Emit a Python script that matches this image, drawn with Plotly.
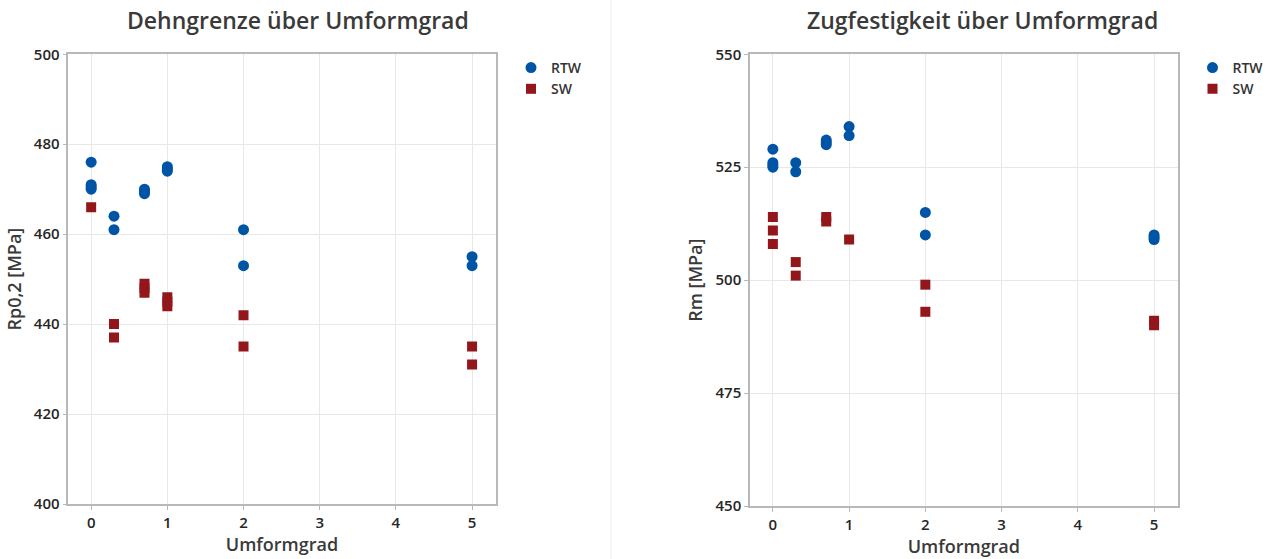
import plotly.graph_objects as go

# ---------------- data ----------------
# Dehngrenze (Rp0,2)
rp_rtw_x = [0, 0, 0, 0, 0.3, 0.3, 0.7, 0.7, 0.7, 1, 1, 1, 2, 2, 5, 5]
rp_rtw_y = [476, 471, 470.5, 470, 464, 461, 470, 469.5, 469, 475, 474.5, 474, 461, 453, 455, 453]
rp_sw_x = [0, 0.3, 0.3, 0.7, 0.7, 0.7, 1, 1, 1, 2, 2, 5, 5]
rp_sw_y = [466, 440, 437, 449, 448, 447, 446, 445, 444, 442, 435, 435, 431]

# Zugfestigkeit (Rm)
rm_rtw_x = [0, 0, 0, 0, 0.3, 0.3, 0.7, 0.7, 0.7, 1, 1, 2, 2, 5, 5, 5]
rm_rtw_y = [529, 526, 525.5, 525, 526, 524, 531, 530.5, 530, 534, 532, 515, 510, 510, 509.5, 509]
rm_sw_x = [0, 0, 0, 0.3, 0.3, 0.7, 0.7, 1, 2, 2, 5, 5]
rm_sw_y = [514, 511, 508, 504, 501, 514, 513, 509, 499, 493, 491, 490]

x_ticks = [0, 1, 2, 3, 4, 5]
rp_ticks = [400, 420, 440, 460, 480, 500]
rm_ticks = [450, 475, 500, 525, 550]

titles = ["Dehngrenze über Umformgrad", "Zugfestigkeit über Umformgrad"]
y_titles = ["Rp0,2 [MPa]", "Rm [MPa]"]
x_title = "Umformgrad"
series_names = ["RTW", "SW"]

# ---------------- style ----------------
W, H = 1271, 559
BLUE = "#0054A6"
RED = "#93171A"
FONT = "Open Sans"
TXT = "#262626"

fig = go.Figure()

fig.add_trace(go.Scatter(x=rp_rtw_x, y=rp_rtw_y, mode="markers", name=series_names[0],
                         marker=dict(symbol="circle", size=11, color=BLUE),
                         xaxis="x", yaxis="y", legend="legend"))
fig.add_trace(go.Scatter(x=rp_sw_x, y=rp_sw_y, mode="markers", name=series_names[1],
                         marker=dict(symbol="square", size=10, color=RED),
                         xaxis="x", yaxis="y", legend="legend"))
fig.add_trace(go.Scatter(x=rm_rtw_x, y=rm_rtw_y, mode="markers", name=series_names[0],
                         marker=dict(symbol="circle", size=11, color=BLUE),
                         xaxis="x2", yaxis="y2", legend="legend2"))
fig.add_trace(go.Scatter(x=rm_sw_x, y=rm_sw_y, mode="markers", name=series_names[1],
                         marker=dict(symbol="square", size=10, color=RED),
                         xaxis="x2", yaxis="y2", legend="legend2"))


def px(v):
    return v / W


def py(v):
    return (H - v) / H


common_axis = dict(
    showline=True, mirror=True, linecolor="#b8b8b8", linewidth=1.5,
    showgrid=True, gridcolor="#e8e8e8", gridwidth=1, zeroline=False,
    ticks="outside", ticklen=4, tickcolor="#b8b8b8", automargin=False,
    tickfont=dict(family=FONT, size=15, color=TXT, weight=600),
)

TITLE_FONT = dict(family=FONT, size=18, color="#3a3a3a", weight=600)

xa = dict(common_axis, range=[-0.3, 5.31], tickvals=x_ticks,
          title=dict(text=x_title, font=TITLE_FONT, standoff=6))

fig.update_layout(
    width=W, height=H, autosize=False,
    margin=dict(l=0, r=0, t=0, b=0, autoexpand=False),
    paper_bgcolor="white", plot_bgcolor="white",
    showlegend=True,
    xaxis=dict(xa, domain=[px(68.3), px(495.7)], anchor="y"),
    yaxis=dict(common_axis, domain=[py(504), py(54.3)], range=[400, 500], tickvals=rp_ticks, anchor="x",
               title=dict(text=y_titles[0], font=TITLE_FONT, standoff=8)),
    xaxis2=dict(xa, domain=[px(750), px(1177.7)], anchor="y2"),
    yaxis2=dict(common_axis, domain=[py(506), py(54.3)], range=[450, 550], tickvals=rm_ticks, anchor="x2",
                title=dict(text=y_titles[1], font=TITLE_FONT, standoff=8)),
    legend=dict(x=px(511), y=py(52), xanchor="left", yanchor="top", bgcolor="rgba(0,0,0,0)",
                font=dict(family=FONT, size=14, color="#333333", weight=600), tracegroupgap=0),
    legend2=dict(x=px(1192.5), y=py(52), xanchor="left", yanchor="top", bgcolor="rgba(0,0,0,0)",
                 font=dict(family=FONT, size=14, color="#333333", weight=600), tracegroupgap=0),
    annotations=[
        dict(text=titles[0], x=px(298), y=py(20), xref="paper", yref="paper",
             xanchor="center", yanchor="middle", showarrow=False,
             font=dict(family=FONT, size=23, color="#3a3a3a", weight=600)),
        dict(text=titles[1], x=px(982), y=py(20), xref="paper", yref="paper",
             xanchor="center", yanchor="middle", showarrow=False,
             font=dict(family=FONT, size=23, color="#3a3a3a", weight=600)),
    ],
    shapes=[
        dict(type="line", xref="paper", yref="paper", x0=px(611), x1=px(611), y0=0, y1=1,
             line=dict(color="#ededed", width=1)),
    ],
)

fig.write_html("out.html")
